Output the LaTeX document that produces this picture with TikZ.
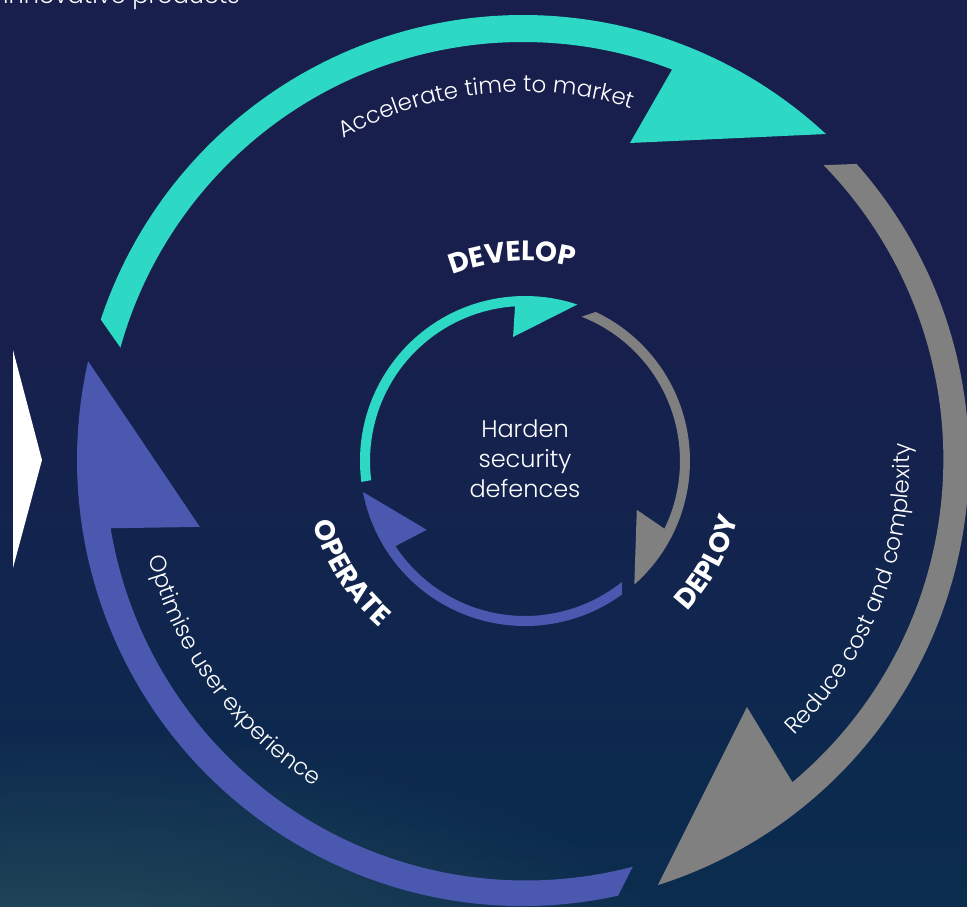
\documentclass[tikz,border=0pt]{standalone}
\usepackage{fontspec}
\setmainfont{Poppins Light}
\newfontfamily\headfont{Poppins Bold}
\usetikzlibrary{decorations.text,fadings}

\definecolor{navytop}{RGB}{24,31,77}
\definecolor{navymid}{RGB}{11,42,78}
\definecolor{navybot}{RGB}{20,60,80}
\definecolor{glowcol}{RGB}{44,82,94}
\definecolor{tealarc}{RGB}{45,217,197}
\definecolor{grayarc}{RGB}{128,128,128}
\definecolor{bluearc}{RGB}{74,88,176}

\pgfdeclareverticalshading{bgshade}{100bp}{%
  color(0bp)=(navybot); color(30bp)=(navymid); color(58bp)=(navytop); color(100bp)=(navytop)}

% soft radial fall-off for the light patch near the lower edge
\tikzfading[name=softglow, inner color=transparent!0, outer color=transparent!100]

\tikzset{
  arclabel/.style={decorate, decoration={text along path, text align=center,
      text color=white, text={|\fontsize{23}{23}\selectfont|#1}}},
  phaselabel/.style={decorate, decoration={text along path, text align=center,
      text color=white, text={|\fontsize{28}{28}\headfont|#1}}},
}

\begin{document}
\begin{tikzpicture}[x=1pt,y=1pt]
  \useasboundingbox (0,0) rectangle (967,906);
  \clip (0,0) rectangle (967,906);

  % background
  \shade[shading=bgshade] (0,0) rectangle (967,906);
  \fill[glowcol, fill opacity=0.8, path fading=softglow]
    (60,-60) ellipse [x radius=620, y radius=240];

  % intro line running off the top edge
  \node[anchor=base west, inner sep=0, text=white, font=\fontsize{24}{24}\selectfont]
    (intro) at (3,902) {innovative products};

  % side pointer
  \fill[white] (13,556) -- (42,446) -- (13,338) -- cycle;

  % ring centres
  \coordinate (O) at (523,446);
  \coordinate (I) at (525,445);

  % outer ring: three arrow bands
  \fill[tealarc] ([shift={(161.6:445)}]O) arc[start angle=161.6, end angle=47.1, radius=445]
    -- ([shift={(71.35:334.6)}]O) -- ([shift={(69.1:418)}]O)
    arc[start angle=69.1, end angle=164.4, radius=418] -- cycle;
  \fill[grayarc] ([shift={(41.6:446)}]O) arc[start angle=41.6, end angle=-72.4, radius=446]
    -- ([shift={(-47.8:333.4)}]O) -- ([shift={(-50.1:420)}]O)
    arc[start angle=-50.1, end angle=44.3, radius=421] -- cycle;
  \fill[bluearc] ([shift={(-77.7:446)}]O) arc[start angle=-77.7, end angle=-192.8, radius=446]
    -- ([shift={(-168.3:330)}]O) -- ([shift={(-170.6:418)}]O)
    arc[start angle=-170.6, end angle=-75.3, radius=421] -- cycle;

  % inner ring: three arrow bands
  \fill[tealarc] ([shift={(187.3:165)}]I) arc[start angle=187.3, end angle=71.5, radius=165]
    -- ([shift={(95.5:124.6)}]I) -- ([shift={(93.7:155)}]I)
    arc[start angle=93.7, end angle=187.1, radius=155] -- cycle;
  \fill[grayarc] ([shift={(64.6:165)}]I) arc[start angle=64.6, end angle=-48.5, radius=165]
    -- ([shift={(-23.6:122)}]I) -- ([shift={(-25.9:155)}]I)
    arc[start angle=-25.9, end angle=68.6, radius=155] -- cycle;
  \fill[bluearc] ([shift={(-54:165)}]I) arc[start angle=-54, end angle=-169.2, radius=165]
    -- ([shift={(-145:120)}]I) -- ([shift={(-146.7:155)}]I)
    arc[start angle=-146.7, end angle=-51.3, radius=155] -- cycle;

  % centre text
  \node[align=center, text=white, font=\fontsize{24}{30}\selectfont] (core) at (525,447)
    {Harden\\security\\defences};

  % phase names around the inner ring
  \path[phaselabel=DEVELOP] ([shift={(123.6:200)}]I) arc[start angle=123.6, end angle=63.6, radius=200];
  \path[phaselabel=DEPLOY] ([shift={(-59:221)}]I) arc[start angle=-59, end angle=1, radius=221];
  \path[phaselabel=OPERATE] ([shift={(182.6:221)}]I) arc[start angle=182.6, end angle=242.6, radius=221];

  % benefit labels inside the outer ring
  \path[arclabel=Accelerate time to market] ([shift={(126:368)}]O) arc[start angle=126, end angle=66, radius=368];
  \path[arclabel=Reduce cost and complexity] ([shift={(-51.5:387)}]O) arc[start angle=-51.5, end angle=8.5, radius=387];
  \path[arclabel=Optimise user experience] ([shift={(186:387)}]O) arc[start angle=186, end angle=246, radius=387];
\end{tikzpicture}
\end{document}
